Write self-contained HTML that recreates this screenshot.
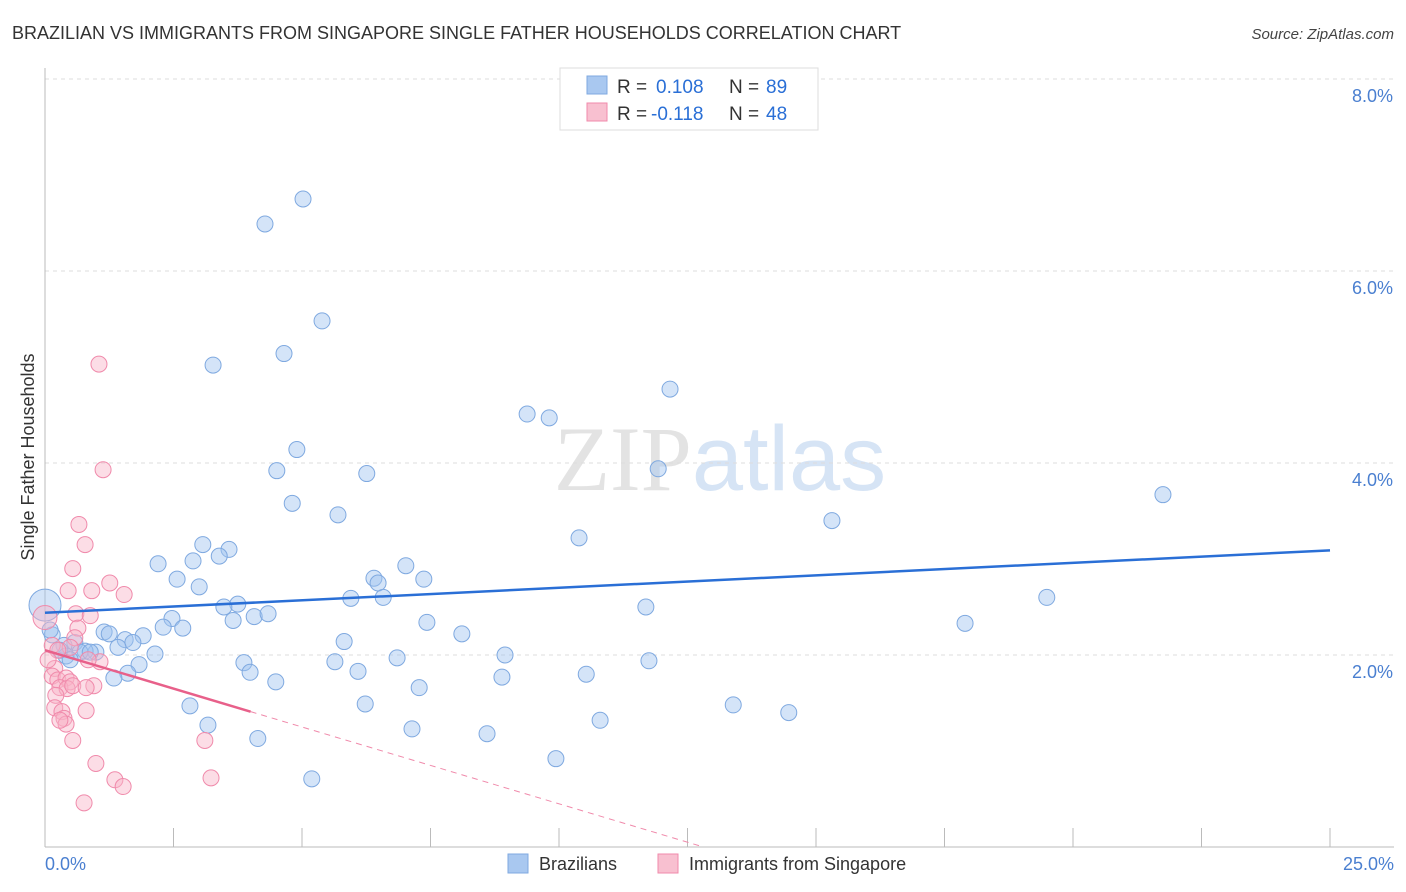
<!DOCTYPE html>
<html><head><meta charset="utf-8"><style>
body{margin:0;background:#fff;font-family:"Liberation Sans",sans-serif;}
svg{display:block}
</style></head><body>
<svg id="chart" width="1406" height="892" viewBox="0 0 1406 892" xmlns="http://www.w3.org/2000/svg" font-family="Liberation Sans, sans-serif">
<text x="12" y="39" font-size="18" fill="#333">BRAZILIAN VS IMMIGRANTS FROM SINGAPORE SINGLE FATHER HOUSEHOLDS CORRELATION CHART</text>
<text x="1394" y="39" font-size="15" fill="#444" font-style="italic" text-anchor="end">Source: ZipAtlas.com</text>
<text x="720" y="490" font-size="92" text-anchor="middle"><tspan fill="#e3e3e3" font-family="Liberation Serif, serif">ZIP</tspan><tspan fill="#d6e4f5">atlas</tspan></text>
<g id="grid"></g>
<g id="axes"></g>
<g id="points"></g>
<g id="trends"></g>
<text transform="translate(34,457) rotate(-90)" font-size="18" fill="#333" text-anchor="middle">Single Father Households</text>
<text x="45" y="870" font-size="18" fill="#4a7fd0">0.0%</text>
<text x="1394" y="870" font-size="18" fill="#4a7fd0" text-anchor="end">25.0%</text>
<g>
<rect x="560" y="68" width="258" height="62" fill="#fff" stroke="#ddd"/>
<rect x="587" y="76" width="20" height="18" fill="#a9c8f0" stroke="#7fa9e0"/>
<rect x="587" y="103" width="20" height="18" fill="#f8c0d0" stroke="#f08aab"/>
<text x="617" y="93" font-size="19" fill="#333">R =</text>
<text x="656" y="93" font-size="19" fill="#2a6fd6">0.108</text>
<text x="729" y="93" font-size="19" fill="#333">N =</text>
<text x="766" y="93" font-size="19" fill="#2a6fd6">89</text>
<text x="617" y="120" font-size="19" fill="#333">R =</text>
<text x="651" y="120" font-size="19" fill="#2a6fd6">-0.118</text>
<text x="729" y="120" font-size="19" fill="#333">N =</text>
<text x="766" y="120" font-size="19" fill="#2a6fd6">48</text>
</g>
<g>
<rect x="508" y="854" width="20" height="19" fill="#a9c8f0" stroke="#7fa9e0"/>
<text x="539" y="870" font-size="18" fill="#333">Brazilians</text>
<rect x="658" y="854" width="20" height="19" fill="#f8c0d0" stroke="#f08aab"/>
<text x="689" y="870" font-size="18" fill="#333">Immigrants from Singapore</text>
</g>
</svg>
<script>
const yTicks=[2,4,6,8];
const yTickLabels=["2.0%","4.0%","6.0%","8.0%"];
const xTicks=[0,2.5,5,7.5,10,12.5,15,17.5,20,22.5,25];
const blueX=[4.28,5.02,5.39,4.65,3.27,12.16,9.38,9.81,4.90,4.51,6.26,11.93,4.81,5.70,21.75,15.31,10.39,3.07,3.58,2.88,3.39,2.20,2.57,3.00,7.02,6.40,6.48,7.37,6.58,5.95,3.75,3.48,4.07,4.34,3.66,2.47,2.30,2.68,11.69,19.49,17.90,7.43,8.11,5.82,1.15,1.25,1.56,1.91,1.71,1.42,0.58,0.37,0.99,0.78,0.41,0.14,2.14,8.95,6.85,5.64,3.87,3.99,1.83,1.61,1.34,6.09,8.89,10.53,11.75,4.49,7.28,2.82,3.17,6.23,13.39,14.47,10.80,7.14,8.60,4.14,9.94,5.19,0.68,0.29,0.49,0.88,0.10,0.0];
const blueY=[6.49,6.75,5.48,5.14,5.02,4.77,4.51,4.47,4.14,3.92,3.89,3.94,3.58,3.46,3.67,3.40,3.22,3.15,3.10,2.98,3.03,2.95,2.79,2.71,2.93,2.80,2.75,2.79,2.60,2.59,2.53,2.50,2.40,2.43,2.36,2.38,2.29,2.28,2.50,2.60,2.33,2.34,2.22,2.14,2.24,2.22,2.16,2.20,2.13,2.08,2.13,2.10,2.03,2.04,1.99,2.21,2.01,2.00,1.97,1.93,1.92,1.82,1.90,1.81,1.76,1.83,1.77,1.80,1.94,1.72,1.66,1.47,1.27,1.49,1.48,1.40,1.32,1.23,1.18,1.13,0.92,0.71,2.03,2.05,1.95,2.03,2.26,2.52];
const pinkX=[1.05,1.13,0.66,0.78,0.54,1.26,0.45,1.54,0.91,0.60,0.88,0.64,0.0,0.58,0.49,0.14,1.07,0.84,0.19,0.14,0.25,0.41,0.49,0.29,0.43,0.21,0.54,0.95,0.80,0.80,0.19,0.33,0.37,0.41,0.29,0.54,3.11,0.99,1.36,1.52,3.23,0.76,0.25,0.06];
const pinkY=[5.03,3.93,3.36,3.15,2.90,2.75,2.67,2.63,2.67,2.43,2.41,2.28,2.39,2.18,2.08,2.10,1.93,1.95,1.86,1.78,1.74,1.76,1.72,1.66,1.65,1.58,1.68,1.68,1.66,1.42,1.45,1.41,1.34,1.28,1.32,1.11,1.11,0.87,0.70,0.63,0.72,0.46,2.05,1.95];
const blueTrend=[2.44,3.09];
const pinkTrend=[2.05,-0.16];
const NS="http://www.w3.org/2000/svg";
const sx=v=>45+v*51.4, sy=v=>847-v*96;
function mk(tag,parent,attrs){const e=document.createElementNS(NS,tag);for(const k in attrs)e.setAttribute(k,attrs[k]);document.getElementById(parent).appendChild(e);return e;}
yTicks.forEach((t,i)=>{
 const l=mk('line','grid',{x1:45,x2:1394,y1:sy(t),y2:sy(t),stroke:'#ddd','stroke-dasharray':'4,4'});
 
 
 const tx=mk('text','grid',{x:1393,y:sy(t)+23,'font-size':18,fill:'#4a7fd0','text-anchor':'end'});
 tx.textContent=yTickLabels[i];
 
 
});
const topGrid=mk('line','grid',{x1:45,x2:1394,y1:79,y2:79,stroke:'#ddd','stroke-dasharray':'4,4'});


const ax=mk('line','axes',{x1:45,x2:1394,y1:847,y2:847,stroke:'#bbb'});


const ay=mk('line','axes',{x1:45,x2:45,y1:68,y2:847,stroke:'#bbb'});


xTicks.forEach(t=>{
 const l=mk('line','axes',{x1:sx(t),x2:sx(t),y1:828,y2:847,stroke:'#bbb'});
 
 
});
blueX.forEach((x,i)=>{
 const big=(x===0);
 const c=mk('circle','points',{cx:sx(x),cy:sy(blueY[i]),r:big?16:8,fill:'rgba(160,196,240,0.45)',stroke:'#7fa9e0','stroke-width':1});
 
 
});
pinkX.forEach((x,i)=>{
 const big=(x===0);
 const c=mk('circle','points',{cx:sx(x),cy:sy(pinkY[i]),r:big?12:8,fill:'rgba(248,180,200,0.45)',stroke:'#f08aab','stroke-width':1});
 
 
});
const bl=mk('line','trends',{x1:sx(0),y1:sy(blueTrend[0]),x2:sx(25),y2:sy(blueTrend[1]),stroke:'#2a6fd6','stroke-width':2.5});


const pEnd=4, pZero=-pinkTrend[0]/pinkTrend[1];
const pl=mk('line','trends',{x1:sx(0),y1:sy(pinkTrend[0]),x2:sx(pEnd),y2:sy(pinkTrend[0]+pinkTrend[1]*pEnd),stroke:'#e8608a','stroke-width':2.5});


const pd=mk('line','trends',{x1:sx(pEnd),y1:sy(pinkTrend[0]+pinkTrend[1]*pEnd),x2:sx(pZero),y2:sy(0),stroke:'#f08aab','stroke-width':1,'stroke-dasharray':'6,5'});


</script>
</body></html>
